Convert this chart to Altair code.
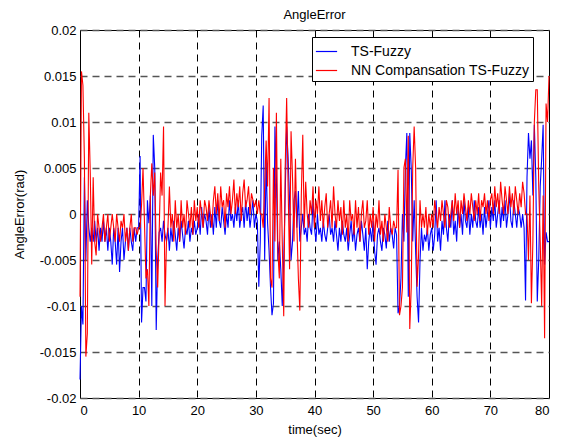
import altair as alt
import pandas as pd

# time base: 0 .. 80 s, 0.25 s steps (in mrad)
DT = 0.25

ts_fuzzy_00_10 = [-18, -10, -12, 4, -5, 1.5, -1.5, -3, -1.5, -3, -0.75, -3, -1.5, -4, -1.5, -3, -0.75, -3, -1.5, -4,
                  -1.5, -3, -5.5, -1.5, -3, -5.5, -1.5, -6.3, -3, -1.5, -5, -3, -1.5, -4, -1.5, -3, -4, -1.5, -3, -1.5]
ts_fuzzy_10_20 = [-1.5, 6.3, -11.8, -8, -8, -9.5, 1.5, -1, 2, -10, 8.6, 5, -12.6, -5, -2, -1.5, -3, -0.75, -2.25, -3,
                  -1.5, -4, -1.5, -3, -0.75, -2.25, -4, -1.5, -3, -0.75, -2.25, -3.75, -1.5, -2.25, -0.75, -3, -1.5, -2.25, -0.75, -2.25]
ts_fuzzy_20_30 = [-1.5, 0, -2.25, 0.75, -1.5, 0, -0.75, -2.25, 0.75, -1.5, 0, -2.25, 0.75, -1.5, 1.5, -0.75, -1.5, 0.75, -0.75, -2.25,
                  0, -1.5, 1.5, -0.75, 0, -1.5, 0.75, -0.75, 1.5, -1.5, 0, 0.75, -1.5, 1.5, -0.75, 0.75, -1.5, 0, 1.5, -1.5]
ts_fuzzy_30_40 = [0, -0.75, -7.9, -3, 8.5, 11.8, -5, 6, -1, -4, -8, -11, -9.7, 9.5, 4, -5, -3, -6, -10, -5,
                  2, 9.5, 6, 1.5, -5, -3, 1.5, 2.5, -1.5, 2.5, -3, -1.5, 0, -2.25, -1.5, -3, 0, -1.5, -2.25, 1.5]
ts_fuzzy_40_50 = [-1.5, -3, 0, -2.25, -1.5, -3, -0.75, -2.25, -3, -1.5, 0, -2.25, -1.5, -3, -0.75, -2.25, -4, -1.5, -3, -0.75,
                  -2.25, -3, -1.5, -4, -2.25, -0.75, -3, -1.5, -4, -2.25, -1.5, -3, -0.75, -2.25, -4, -1.5, -6, -3, -1.5, -3]
ts_fuzzy_50_60 = [-0.75, -4, -5.5, -2.25, -1.5, -3, -4, -1.5, -2.25, -3.75, -0.75, -3, -1.5, -2.25, -3.75, -1.5, -2.25, -10.8, -10, -7,
                  0, -3, 5, 8.8, -9, 8.8, 5, -3, 1.5, -4, -9, -11.8, -5, -1.5, -4, -2.25, -3, -1.5, -4, -2.25]
ts_fuzzy_60_70 = [-1.5, -4, -2.25, 1.5, -3, -1.5, -4, -0.75, -2.25, 1.5, -1.5, -3, 0, -1.5, 1.5, -2.25, -0.75, -3, 0.75, -1.5,
                  0, -2.25, 1.5, -0.75, -1.5, 0.75, -2.25, 0, -1.5, 1.5, -0.75, -1.5, 0.75, -1.5, 0, -2.25, 0.75, -1.5, 0, 1.5]
ts_fuzzy_70_80 = [-1.5, 0.75, -0.75, 1.5, -1.5, 0, 1.5, -1.5, 0.75, -0.75, 1.5, -1.5, 0, 2.25, -0.75, -1.5, 1.5, 0, -1.5, 0.75,
                  0, -1.5, 0, -1.5, -9.4, 4, 8.8, 6, 8, 2, 9.7, 4, -9.5, -5, 3, 6, 9.7, -5.5, -2, -3, -3]

nn_ts_fuzzy_00_10 = [-9, 15.5, 14, 6, -15.5, -13, 11, 4.5, -5.5, 4, -3, -4.5, 0, -1.5, -3, -1.5, 0, -3, -1.5, 0,
                     -3, -1.5, 0, -1.5, -3, 0, -1.5, -3, -0.75, -1.5, 0, -3, -1.5, -4, -1.5, 0, -3, -1.5, -1.5, -2.25]
nn_ts_fuzzy_10_20 = [-1.5, -1.5, 1, 5, -1, -7, -6, -10, 2, 5.5, 2, 4.5, -4, -8, -2, 4.5, 2, 9.5, -10, -3,
                     -1.5, 3, -1.5, 0, -3, 1.5, -1.5, 0, -3, 1.5, -1.5, 0, -2.25, 1.5, 0, -1.5, 0.75, -2.25, 1.5, -0.75]
nn_ts_fuzzy_20_30 = [0.75, -1.5, 1.5, 0, -1.5, 1.5, 0.75, -0.75, 1.5, 0, -1.5, 1.5, 3, 0, 2.25, -0.75, 3, 0.75, 1.5, -1.5,
                     2.25, 0.75, 3, 0, 1.5, 3.75, 0, 2.25, 0.75, 3, -0.75, 2.25, 3.75, 0.75, 1.5, 3, 0, 2.25, 1.5, 0.75]
nn_ts_fuzzy_30_40 = [1.5, 0, 1.5, 0, 0, -1.5, 3, 8, 3, 12.6, -7, -8, 5, -3, 11, -4, -7, 6, -3, -11.1,
                     5, 12.6, 3, -6, 9, 4, -3, 6, -1.5, -7, -10.5, 2, 8.6, -1.5, 3.5, 0, -1.5, 1.5, 0, 3]
nn_ts_fuzzy_40_50 = [-1.5, 1.5, 0, 3, -0.75, 1.5, -1.5, 0.75, 2.25, -1.5, 0, 1.5, -1.5, 3, 0, -1.5, 1.5, -0.75, 0.75, -2.25,
                     1.5, -1.5, 0, -3, 1.5, -0.75, 0, -2.25, 1.5, -1.5, 0.75, -3, 0, 1.5, -1.5, -0.75, 1.5, -2.25, 0, -1.5]
nn_ts_fuzzy_50_60 = [0.75, -3, 0, -1.5, 1.5, -2.25, -0.75, -3, 0, -1.5, -3, 0.75, -1.5, -2.25, -0.75, -1.5, -1.5, 4.8, -11, -10,
                     -8, 5, 6, -2, 8.5, -12.5, -8, 5, 9.5, 5, -7.9, -4.5, 1.5, -1.5, 0, -1.5, 0.75, -2.25, 0, -1.5]
nn_ts_fuzzy_60_70 = [0, -1.5, 1.5, 0, -1.5, 0.75, -0.75, 1.5, 0, -1.5, 1.5, 0.75, -1.5, 0, 1.5, -0.75, 2.25, 0, 1.5, -1.5,
                     1.5, 0, 2.25, 0.75, -0.75, 1.5, 0, 2.25, 0.75, -0.75, 1.5, 0, 2.25, -0.75, 1.5, 0.75, 2.25, 0, 1.5, -0.75]
nn_ts_fuzzy_70_80 = [1.5, 2.25, 0, 3, 0.75, 2.25, 0, 3.5, 1.5, 0, 3, 1.5, 0, 3, 0.75, 2.25, 0, 3, 1.5, 0,
                     2.25, 0.75, 3.5, 2.25, 0, 0, -5, 2, -9.7, -3, 10, 13.5, 13.5, 3, -3, -10, 2, -13.5, 12, 10, 15]

x_ticks = [0, 10, 20, 30, 40, 50, 60, 70, 80]
y_ticks = [-0.02, -0.015, -0.01, -0.005, 0, 0.005, 0.01, 0.015, 0.02]
series_names = ["TS-Fuzzy", "NN Compansation TS-Fuzzy"]
series_colors = ["#0000FF", "#FF0000"]

blue = (ts_fuzzy_00_10 + ts_fuzzy_10_20 + ts_fuzzy_20_30 + ts_fuzzy_30_40 +
        ts_fuzzy_40_50 + ts_fuzzy_50_60 + ts_fuzzy_60_70 + ts_fuzzy_70_80)
red = (nn_ts_fuzzy_00_10 + nn_ts_fuzzy_10_20 + nn_ts_fuzzy_20_30 + nn_ts_fuzzy_30_40 +
       nn_ts_fuzzy_40_50 + nn_ts_fuzzy_50_60 + nn_ts_fuzzy_60_70 + nn_ts_fuzzy_70_80)

rows = []
for name, vals in zip(series_names, [blue, red]):
    for i, v in enumerate(vals):
        rows.append({"t": i * DT, "err": v / 1000.0, "series": name, "idx": i})
df = pd.DataFrame(rows)

FONT = "Liberation Sans"

color = alt.Color(
    "series:N",
    scale=alt.Scale(domain=series_names, range=series_colors),
    legend=alt.Legend(
        title=None, orient="none", legendX=232, legendY=7,
        symbolType="stroke", symbolSize=450, symbolStrokeWidth=1.2,
        labelFontSize=14, labelFont=FONT, labelColor="#000", labelLimit=400,
        labelOffset=13, rowPadding=0, padding=3,
        labelExpr="datum.label + '\u00a0\u00a0\u00a0\u00a0\u00a0\u00a0'",
        strokeColor="#000", fillColor="#fff",
    ),
)

x = alt.X("t:Q", title="time(sec)",
          scale=alt.Scale(domain=[0, 80], nice=False, zero=False),
          axis=alt.Axis(values=x_ticks, ticks=False, labelPadding=6, titlePadding=6,
                        gridDash=[7, 5], gridColor="#000", gridWidth=1, domain=False))
y = alt.Y("err:Q", title="AngleError(rad)",
          scale=alt.Scale(domain=[-0.02, 0.02], nice=False, zero=False),
          axis=alt.Axis(values=y_ticks, ticks=False, labelPadding=4, titlePadding=13,
                        labelExpr="replace(format(datum.value, '.3~f'), '\u2212', '-')",
                        gridDash=[7, 5], gridColor="#555", gridWidth=1.3, domain=False))

base = alt.Chart(df)
blue_layer = base.transform_filter(alt.datum.series == series_names[0]).mark_line(
    strokeWidth=1.1, interpolate="linear").encode(x=x, y=y, color=color, order="idx:Q")
red_layer = base.transform_filter(alt.datum.series == series_names[1]).mark_line(
    strokeWidth=1.1, interpolate="linear").encode(x=x, y=y, color=color, order="idx:Q")

chart = alt.layer(blue_layer, red_layer).properties(
    width=469, height=368,
    title=alt.Title("AngleError", fontSize=13, font=FONT, fontWeight="normal",
                    offset=2, color="#000"),
    autosize=alt.AutoSizeParams(type="none"),
    padding={"left": 72, "top": 22, "right": 4, "bottom": 40},
).configure_view(
    stroke="#000", strokeWidth=1
).configure_axis(
    labelFont=FONT, titleFont=FONT, labelFontSize=13, titleFontSize=13,
    labelColor="#000", titleColor="#000", titleFontWeight="normal",
)

chart.save("out.html", embed_options={"renderer": "svg", "actions": False})
